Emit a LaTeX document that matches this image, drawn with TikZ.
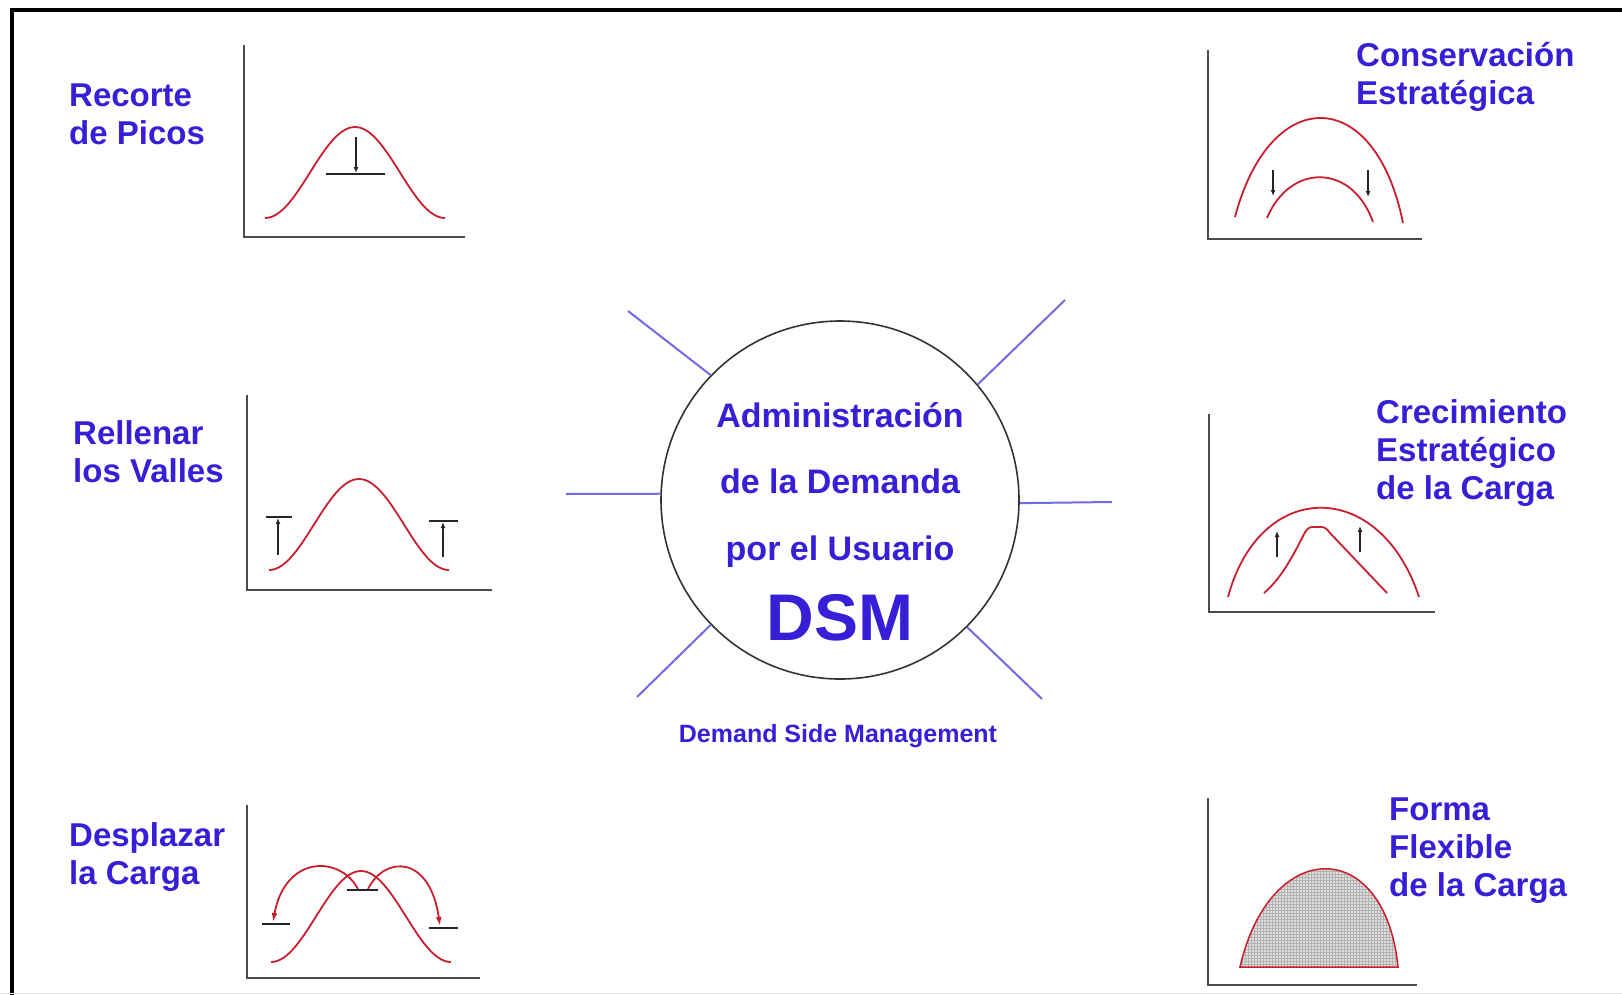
\documentclass[tikz,border=0pt]{standalone}
\usepackage{fontspec}
\setmainfont{Liberation Sans}
\usepackage{tikz}
\usetikzlibrary{arrows.meta, patterns, positioning}
\definecolor{dsmblue}{RGB}{55,30,215}
\definecolor{spokeblue}{RGB}{115,105,230}
\definecolor{loadred}{RGB}{200,30,45}
\tikzset{
    chartaxis/.style={draw=black!70, line width=2.5pt},
    load/.style={draw=loadred, line width=1.8pt},
    level/.style={draw=black!85, line width=1.6pt},
    push/.style={-{Latex[length=6pt,width=5pt]}, draw=black!85, line width=1.5pt},
    moveload/.style={load, -{Latex[length=9pt,width=6pt]}},
    spoke/.style={draw=spokeblue, line width=2pt},
    hub/.style={circle, draw=black!80, line width=1.6pt, minimum size=358pt, inner sep=0pt},
    hubtext/.style={anchor=base, inner sep=0pt, text=dsmblue, font=\fontsize{34}{40}\selectfont\bfseries},
    strategy/.style={anchor=base west, align=left, inner sep=0pt, text=dsmblue, font=\fontsize{33}{38}\selectfont\bfseries}
}

\begin{document}
\begin{tikzpicture}[x=1pt, y=-1pt]
    \useasboundingbox (0,0) rectangle (1622,994);
    % frame
    \draw[line width=4pt] (12,1010) -- (12,10) -- (1640,10);
    \draw[gray!20, line width=1pt] (0,993) -- (1622,993);

    % DSM hub
    \node[hub] (dsm) at (840,500) {};
    \node[hubtext] (l1) at (840,427) {Administración};
    \node[hubtext] (l2) at (840,493) {de la Demanda};
    \node[hubtext] (l3) at (840,560) {por el Usuario};
    \node[hubtext, font=\fontsize{66}{70}\selectfont\bfseries] (l4) at (840,640) {DSM};
    \node[hubtext, font=\fontsize{25}{30}\selectfont\bfseries] (sub) at (838,742) {Demand Side Management};

    % spokes
    \coordinate (ul) at (628,311);
    \coordinate (ur) at (1065,300);
    \coordinate (lt) at (566,494);
    \coordinate (rt) at (1112,502);
    \coordinate (ll) at (637,697);
    \coordinate (lr) at (1042,699);
    \draw[spoke] (dsm.136) -- (ul);
    \draw[spoke] (dsm.40) -- (ur);
    \draw[spoke] (dsm.178) -- (lt);
    \draw[spoke] (dsm.-1) -- (rt);
    \draw[spoke] (dsm.224) -- (ll);
    \draw[spoke] (dsm.315) -- (lr);

    % labels (base = last line)
    \node[strategy] (peak) at (69,144) {Recorte\\de Picos};
    \node[strategy] (valley) at (73,482) {Rellenar\\los Valles};
    \node[strategy] (shiftload) at (69,884) {Desplazar\\la Carga};
    \node[strategy] (conserve) at (1356,104) {Conservación\\Estratégica};
    \node[strategy] (growth) at (1376,499) {Crecimiento\\Estratégico\\de la Carga};
    \node[strategy] (flexible) at (1389,896) {Forma\\Flexible\\de la Carga};

    % left charts
    \draw[chartaxis] (244,45) -- (244,237) -- (465,237);
    \draw[chartaxis] (247,395) -- (247,590) -- (492,590);
    \draw[chartaxis] (247,805) -- (247,978) -- (480,978);
    \foreach \cx/\by in {355/218, 359/570, 361/962}
        \draw[load] plot[domain=-90:90, samples=61, smooth] ({\cx+\x}, {\by-91*(1+cos(2*\x))/2});

    % peak clipping
    \draw[push] (356,137) -- (356,173);
    \draw[level] (326,174) -- (385,174);

    % valley filling
    \draw[push] (278,555) -- (278,518);
    \draw[level] (266,517) -- (292,517);
    \draw[push] (443,557) -- (443,522);
    \draw[level] (429,521) -- (458,521);

    % load shifting
    \draw[level] (347,890) -- (378,890);
    \draw[level] (262,924) -- (290,924);
    \draw[level] (429,928) -- (458,928);
    \draw[moveload] (358,889) .. controls (340,855) and (285,855) .. (273,922);
    \draw[moveload] (368,889) .. controls (385,855) and (430,855) .. (440,926);

    % right charts
    \draw[chartaxis] (1208,50) -- (1208,239) -- (1422,239);
    \draw[chartaxis] (1209,414) -- (1209,612) -- (1435,612);
    \draw[chartaxis] (1208,798) -- (1208,985) -- (1417,985);

    % strategic conservation
    \draw[load] (1235,217) .. controls (1270,84) and (1375,84) .. (1403,223);
    \draw[load] (1267,218) .. controls (1290,163) and (1352,163) .. (1373,222);
    \draw[push] (1273,170) -- (1273,196);
    \draw[push] (1368,170) -- (1368,197);

    % strategic load growth
    \draw[load] (1228,597) .. controls (1260,478) and (1380,478) .. (1419,597);
    \draw[load] (1264,593) .. controls (1282,578) and (1295,552) .. (1304,534)
        .. controls (1308,527) and (1310,527) .. (1314,527) -- (1321,527)
        .. controls (1325,527) and (1327,529) .. (1330,533) -- (1387,593);
    \draw[push] (1277,557) -- (1277,531);
    \draw[push] (1360,552) -- (1360,526);

    % flexible load shape
    \draw[load, line width=1.5pt, pattern=grid, pattern color=gray!60, preaction={fill=gray!25}]
        (1240,967) .. controls (1270,836) and (1385,836) .. (1398,967) -- cycle;
\end{tikzpicture}
\end{document}
